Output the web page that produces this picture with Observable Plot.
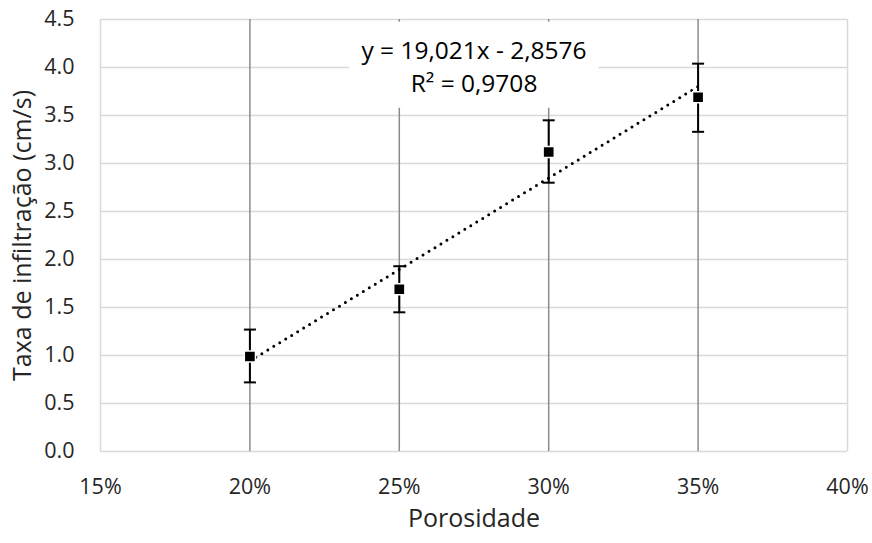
<!DOCTYPE html>
<html>
<head>
<meta charset="utf-8">
<script src="https://cdn.jsdelivr.net/npm/d3@7"></script>
<script src="https://cdn.jsdelivr.net/npm/@observablehq/plot@0.6"></script>
<style>
  html, body { margin: 0; padding: 0; background: #fff; }
</style>
</head>
<body>
<div id="chart"></div>
<script>
// Data
const porosidade = [0.20, 0.25, 0.30, 0.35];
const taxa = [0.99, 1.69, 3.12, 3.69];
const erroInf = [0.72, 1.45, 2.80, 3.33];
const erroSup = [1.27, 1.93, 3.45, 4.04];

const xTicks = [0.15, 0.20, 0.25, 0.30, 0.35, 0.40];
const yTicks = [0, 0.5, 1, 1.5, 2, 2.5, 3, 3.5, 4, 4.5];
const xDomain = [0.15, 0.40];
const yDomain = [0, 4.5];
const xLabel = "Porosidade";
const yLabel = "Taxa de infiltração (cm/s)";
const equacao = [{x: 0.275, y: 4.03, text: "y = 19,021x - 2,8576\nR² = 0,9708"}];

const data = porosidade.map((p, i) => ({x: p, y: taxa[i], lo: erroInf[i], hi: erroSup[i]}));
const gridMain = xTicks.filter(t => t > xDomain[0] && t < xDomain[1]);
const gridEdge = [xDomain[0], xDomain[1]];

const capSymbol = {
  draw(context) {
    context.moveTo(-6, 0);
    context.lineTo(6, 0);
  }
};

const font = "'Open Sans', 'Noto Sans', sans-serif";

const chart = Plot.plot({
  width: 872,
  height: 543,
  marginLeft: 100,
  marginRight: 25,
  marginTop: 19,
  marginBottom: 92,
  style: {fontFamily: font, fontSize: "21px", color: "#262626", background: "#fff"},
  x: {domain: xDomain, ticks: xTicks, tickFormat: d3.format(".0%"), label: null},
  y: {domain: yDomain, ticks: yTicks, tickFormat: d3.format(".1f"), label: null},
  marks: [
    Plot.ruleY(yTicks, {stroke: "#d9d9d9", strokeWidth: 1.5}),
    Plot.ruleX(gridEdge, {stroke: "#d9d9d9", strokeWidth: 1.5}),
    Plot.ruleX(gridMain, {stroke: "#8c8c8c", strokeWidth: 1.5}),
    Plot.axisX({ticks: xTicks, tickFormat: d3.format(".0%"), tickSize: 0, tickPadding: 27, fontSize: 21.5, label: null}),
    Plot.axisY({ticks: yTicks, tickFormat: d3.format(".1f"), tickSize: 0, tickPadding: 26, fontSize: 21.5, label: null}),
    Plot.linearRegressionY(data, {x: "x", y: "y", ci: 0, stroke: "#000", strokeWidth: 3, strokeDasharray: "0,7", strokeLinecap: "round"}),
    Plot.ruleX(data, {x: "x", y1: "lo", y2: "hi", stroke: "#000", strokeWidth: 2}),
    Plot.dot(data, {x: "x", y: "lo", symbol: capSymbol, stroke: "#000", strokeWidth: 2, fill: "none", r: 6}),
    Plot.dot(data, {x: "x", y: "hi", symbol: capSymbol, stroke: "#000", strokeWidth: 2, fill: "none", r: 6}),
    Plot.dot(data, {x: "x", y: "y", symbol: "square", fill: "#000", stroke: "#fff", strokeWidth: 1.5, r: 6.3}),
    Plot.text(equacao, {x: "x", y: "y", text: "text", fontSize: 24.5, lineHeight: 1.35, fill: "#000"}),
    Plot.text([xLabel], {frameAnchor: "bottom", dy: 75, fontSize: 25, fill: "#262626"}),
    Plot.text([yLabel], {frameAnchor: "left", textAnchor: "middle", dx: -78, rotate: -90, fontSize: 25, fill: "#262626"})
  ]
});

document.getElementById("chart").appendChild(chart);

// White background box behind the trendline equation
const eqText = d3.select(chart).selectAll("text").filter(function () {
  return this.textContent.indexOf("19,021") >= 0;
}).node();
if (eqText) {
  const g = eqText.parentNode;
  const bb = eqText.getBBox();
  const t = eqText.getAttribute("transform");
  const gt = g.getAttribute("transform");
  const r = d3.select(g.parentNode).insert("rect", () => g)
    .attr("x", bb.x - 12)
    .attr("y", bb.y - 11)
    .attr("width", bb.width + 24)
    .attr("height", bb.height + 20)
    .attr("fill", "#fff");
  const tr = [gt, t].filter(Boolean).join(" ");
  if (tr) r.attr("transform", tr);
}
</script>
</body>
</html>
